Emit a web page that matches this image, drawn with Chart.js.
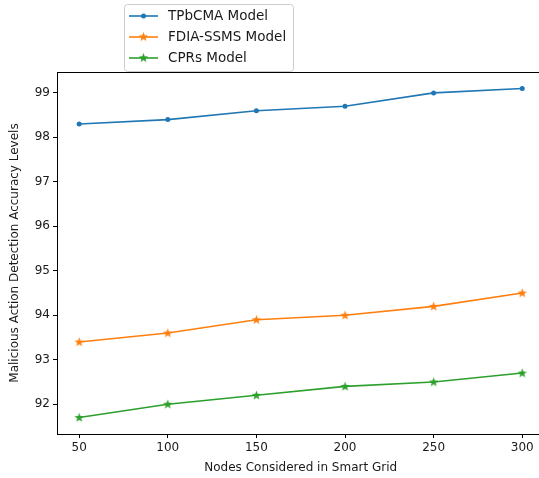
<!DOCTYPE html>
<html>
<head>
<meta charset="utf-8">
<script src="https://cdn.jsdelivr.net/npm/chart.js@4/dist/chart.umd.min.js"></script>
<style>
  html, body { margin: 0; padding: 0; background: #fff; overflow: hidden; width: 539px; height: 478px; }
  canvas { display: block; }
</style>
</head>
<body>
<canvas id="chart" width="550" height="478"></canvas>
<script>
// data
const nodes = [50, 100, 150, 200, 250, 300];
const tpbcma = [98.3, 98.4, 98.6, 98.7, 99.0, 99.1];
const fdiaSsms = [93.4, 93.6, 93.9, 94.0, 94.2, 94.5];
const cprs = [91.7, 92.0, 92.2, 92.4, 92.5, 92.7];
const yTicks = [92, 93, 94, 95, 96, 97, 98, 99];
const seriesNames = ["TPbCMA Model", "FDIA-SSMS Model", "CPRs Model"];

const FONT = "'DejaVu Sans', sans-serif";

// filled star like matplotlib's '*' marker
function makeStar(color) {
    const c = document.createElement("canvas");
    c.width = 11; c.height = 11;
    const g = c.getContext("2d");
    g.fillStyle = color;
    g.beginPath();
    for (let i = 0; i < 10; i++) {
        const r = i % 2 === 0 ? 5 : 2.1;
        const a = -Math.PI / 2 + i * Math.PI / 5;
        const x = 5.5 + r * Math.cos(a), y = 5.7 + r * Math.sin(a);
        i === 0 ? g.moveTo(x, y) : g.lineTo(x, y);
    }
    g.closePath();
    g.fill();
    return c;
}

const colors = ["#1f77b4", "#ff7f0e", "#2ca02c"];
const starOrange = makeStar(colors[1]);
const starGreen = makeStar(colors[2]);

function toXY(vals) {
    return vals.map((v, i) => ({ x: nodes[i], y: v }));
}

// spines + legend box
const framePlugin = {
    id: "frame",
    afterDraw(chart) {
        const ctx = chart.ctx;
        const a = chart.chartArea;
        ctx.save();
        ctx.strokeStyle = "#000";
        ctx.lineWidth = 1;
        ctx.strokeRect(Math.round(a.left) + 0.5, Math.round(a.top) + 0.5,
            Math.round(a.right - a.left), Math.round(a.bottom - a.top));

        // legend
        const bx = 124.5, by = 4.5, bw = 169, bh = 67;
        ctx.fillStyle = "rgba(255,255,255,0.8)";
        ctx.strokeStyle = "#cccccc";
        ctx.beginPath();
        ctx.roundRect(bx, by, bw, bh, 3);
        ctx.fill();
        ctx.stroke();
        ctx.font = "13.5px " + FONT;
        ctx.textBaseline = "middle";
        chart.data.datasets.forEach((ds, i) => {
            const y = 16 + i * 21;
            ctx.strokeStyle = ds.borderColor;
            ctx.lineWidth = 1.6;
            ctx.beginPath();
            ctx.moveTo(129, y);
            ctx.lineTo(158, y);
            ctx.stroke();
            if (ds.pointStyle === "circle") {
                ctx.fillStyle = ds.borderColor;
                ctx.beginPath();
                ctx.arc(143.5, y, 2.5, 0, Math.PI * 2);
                ctx.fill();
            } else {
                ctx.drawImage(ds.pointStyle, 138, y - 5.7);
            }
            ctx.fillStyle = "#1a1a1a";
            ctx.fillText(ds.label, 168, y + 0.5);
        });
        ctx.restore();
    }
};

new Chart(document.getElementById("chart"), {
    type: "line",
    data: {
        datasets: [
            {
                label: seriesNames[0], data: toXY(tpbcma),
                borderColor: colors[0], backgroundColor: colors[0],
                pointStyle: "circle", pointRadius: 2.5, pointBorderWidth: 0, borderWidth: 1.6
            },
            {
                label: seriesNames[1], data: toXY(fdiaSsms),
                borderColor: colors[1], backgroundColor: colors[1],
                pointStyle: starOrange, borderWidth: 1.6
            },
            {
                label: seriesNames[2], data: toXY(cprs),
                borderColor: colors[2], backgroundColor: colors[2],
                pointStyle: starGreen, borderWidth: 1.6
            }
        ]
    },
    options: {
        responsive: false,
        animation: false,
        layout: { padding: { top: 72, right: 3, left: 0, bottom: 0 } },
        plugins: {
            legend: { display: false },
            tooltip: { enabled: false }
        },
        scales: {
            x: {
                type: "linear",
                min: 37.5, max: 312.5,
                afterBuildTicks: s => { s.ticks = nodes.map(v => ({ value: v })); },
                afterFit: s => { s.height = 44; },
                grid: { drawOnChartArea: false, drawTicks: true, tickLength: 4, color: "#000" },
                border: { display: false },
                ticks: { color: "#1a1a1a", font: { family: FONT, size: 12 }, padding: 3, maxRotation: 0 },
                title: {
                    display: true, text: "Nodes Considered in Smart Grid",
                    color: "#1a1a1a", font: { family: FONT, size: 12 }, padding: { top: 2, bottom: 3 }
                }
            },
            y: {
                type: "linear",
                min: 91.33, max: 99.47,
                afterBuildTicks: s => { s.ticks = yTicks.map(v => ({ value: v })); },
                afterFit: s => { s.width = 57; },
                grid: { drawOnChartArea: false, drawTicks: true, tickLength: 4, color: "#000" },
                border: { display: false },
                ticks: { color: "#1a1a1a", font: { family: FONT, size: 12 }, padding: 3 },
                title: {
                    display: true, text: "Malicious Action Detection Accuracy Levels",
                    color: "#1a1a1a", font: { family: FONT, size: 12 }, padding: { top: 8, bottom: 2 }
                }
            }
        }
    },
    plugins: [framePlugin]
});
</script>
</body>
</html>
